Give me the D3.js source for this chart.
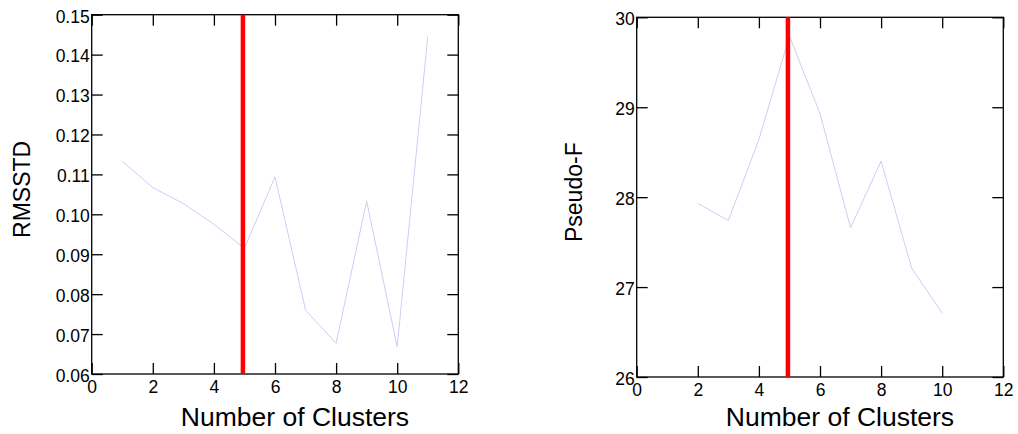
<!DOCTYPE html>
<html>
<head>
<meta charset="utf-8">
<script src="https://cdn.jsdelivr.net/npm/d3@7"></script>
<style>
  body { margin: 0; background: #fff; }
  svg { display: block; font-family: "Liberation Sans", Arial, sans-serif; }
  .tick text { fill: #000; }
</style>
</head>
<body>
<div id="chart"></div>
<script>
// values
var xTicks = [0, 2, 4, 6, 8, 10, 12];
var rmsClusters = [1, 2, 3, 4, 5, 6, 7, 8, 9, 10, 11];
var rmsstd = [0.1133, 0.1067, 0.1027, 0.0975, 0.0915, 0.1094, 0.0760, 0.0677, 0.1033, 0.0668, 0.1445];
var rmsTicks = [0.06, 0.07, 0.08, 0.09, 0.10, 0.11, 0.12, 0.13, 0.14, 0.15];
var pfClusters = [2, 3, 4, 5, 6, 7, 8, 9, 10];
var pseudoF = [27.93, 27.74, 28.64, 29.79, 28.93, 27.66, 28.40, 27.21, 26.71];
var pfTicks = [26, 27, 28, 29, 30];
var chosenK = 4.95;

var svg = d3.select("#chart").append("svg")
    .attr("width", 1018)
    .attr("height", 434);

var W = 366.6;

function panel(left, top, height, xs, ys, yDomain, yTickVals, yFmt, yTitle, yTitleX) {
  var g = svg.append("g")
    .attr("transform", "translate(" + left + "," + top + ")");

  var xScale = d3.scaleLinear().domain([0, 12]).range([0, W]);
  var yScale = d3.scaleLinear().domain(yDomain).range([height, 0]);

  var tick = 11;

  var xb = g.append("g")
    .attr("transform", "translate(0," + height + ")")
    .call(d3.axisBottom(xScale).tickValues(xTicks).tickSizeInner(-tick).tickSizeOuter(0).tickPadding(5));
  xb.selectAll("text").attr("font-size", 17.5).attr("dy", "0.78em");

  g.append("g")
    .call(d3.axisTop(xScale).tickValues(xTicks).tickSizeInner(-tick).tickSizeOuter(0).tickFormat(""));

  var yl = g.append("g")
    .call(d3.axisLeft(yScale).tickValues(yTickVals).tickFormat(yFmt).tickSizeInner(-tick).tickSizeOuter(0).tickPadding(2));
  yl.selectAll("text").attr("font-size", 17.5).attr("dy", "0.42em");

  g.append("g")
    .attr("transform", "translate(" + W + ",0)")
    .call(d3.axisRight(yScale).tickValues(yTickVals).tickSizeInner(-tick).tickSizeOuter(0).tickFormat(""));

  g.selectAll(".domain").remove();
  g.selectAll(".tick line").attr("stroke", "#000").attr("stroke-width", 1.3);

  g.append("rect")
    .attr("width", W)
    .attr("height", height)
    .attr("fill", "none")
    .attr("stroke", "#000")
    .attr("stroke-width", 1.3);

  var line = d3.line()
    .x(function(d) { return xScale(d[0]); })
    .y(function(d) { return yScale(d[1]); });

  g.append("path")
    .datum(d3.zip(xs, ys))
    .attr("d", line)
    .attr("fill", "none")
    .attr("stroke", "rgb(205,205,248)")
    .attr("stroke-width", 1);

  g.append("line")
    .attr("x1", xScale(chosenK))
    .attr("x2", xScale(chosenK))
    .attr("y1", 0)
    .attr("y2", height)
    .attr("stroke", "#ff0000")
    .attr("stroke-width", 4.5);

  g.append("text")
    .attr("x", W / 2 + 20)
    .attr("y", 434 - top - 8)
    .attr("text-anchor", "middle")
    .attr("font-size", 26.5)
    .text("Number of Clusters");

  g.append("text")
    .attr("transform", "translate(" + yTitleX + "," + (height / 2 - 5) + ") rotate(-90)")
    .attr("text-anchor", "middle")
    .attr("font-size", 23)
    .text(yTitle);
}

panel(91.7, 14.7, 359.3, rmsClusters, rmsstd, [0.06, 0.15], rmsTicks, d3.format(".2f"), "RMSSTD", -62);
panel(636.7, 17.3, 359.7, pfClusters, pseudoF, [26, 30], pfTicks, d3.format("d"), "Pseudo-F", -55);
</script>
</body>
</html>
